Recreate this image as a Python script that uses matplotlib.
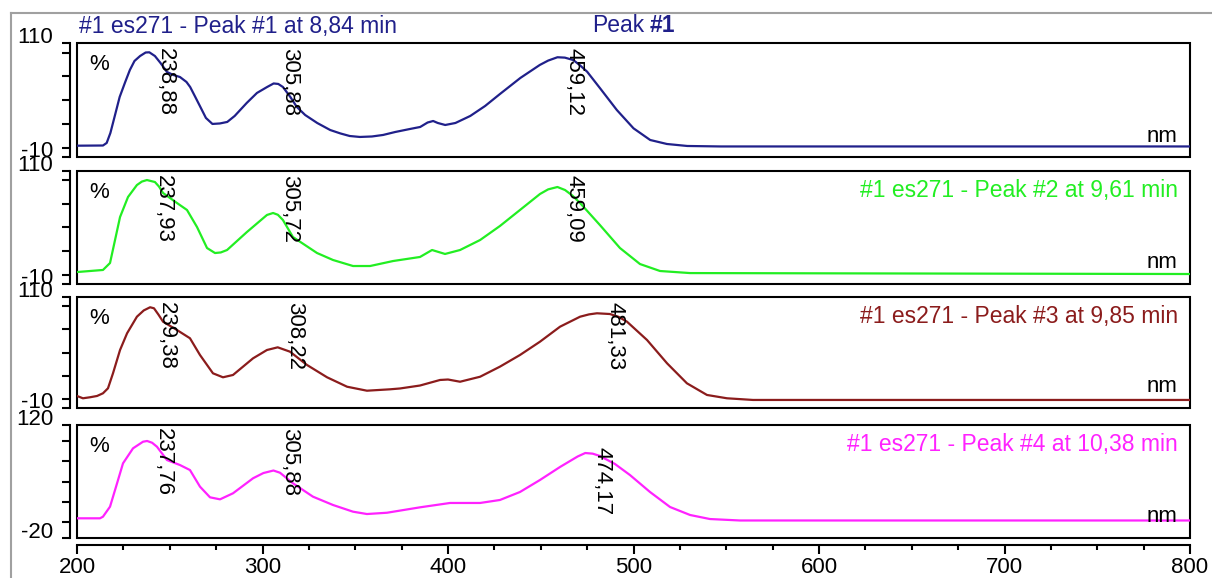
# DAD spectra of four peaks, es271 run

import matplotlib.pyplot as plt
from matplotlib.patches import Rectangle
from matplotlib.lines import Line2D
from matplotlib.ticker import FixedLocator, MultipleLocator

plt.rcParams['font.family'] = ['Liberation Sans', 'DejaVu Sans']

# spectrum data: wavelength (nm) / relative absorbance (%)
wl_1 = [200, 214, 216, 218, 220.5, 223, 226, 228.5, 231, 234, 237, 239, 242, 245, 248.5,
        252, 255.5, 259, 261, 263.5, 266.5, 269.5, 273, 277, 281, 285, 291.5, 297, 302.5,
        306, 308.5, 311, 315, 318.5, 323, 329.5, 336.5, 342, 347, 352.5, 359, 365, 371.5,
        379.5, 385, 389, 392, 394.5, 398.5, 404, 412, 420, 428, 439, 449.5, 454, 459, 463,
        467.5, 471, 475, 482, 491, 500, 509, 518, 529, 547, 800]
pct_1 = [1.9, 2.1, 4.8, 15.3, 34.2, 53.2, 69.0, 81.6, 91.1, 96.3, 100.0, 100.2, 96.3, 89.0, 79.5,
         76.3, 74.2, 69.0, 63.7, 54.2, 42.7, 31.1, 24.8, 25.3, 26.9, 33.2, 46.9, 57.4, 63.7,
         67.4, 66.9, 63.7, 53.2, 42.7, 34.2, 25.8, 18.4, 14.8, 12.1, 11.1, 11.6, 13.2, 16.3,
         19.5, 21.6, 26.3, 27.9, 25.8, 23.7, 25.8, 33.2, 43.7, 56.3, 73.2, 86.9, 91.5, 95.0, 94.6,
         92.1, 86.8, 79.8, 62.3, 39.5, 20.2, 7.9, 3.7, 1.6, 1.1, 1.1]

wl_2 = [200, 214, 217.8, 220.5, 223.2, 227.5, 232.3, 235, 237.7, 242, 244.2, 246.4, 253.9,
        259.3, 264.7, 270.1, 274.4, 277.5, 280.9, 291.6, 302.4, 305.7, 308.3, 311, 316.4,
        329.4, 338, 348.8, 358, 370.4, 384.9, 391.4, 398.4, 406.5, 417.3, 428, 438.8, 449.6,
        454, 459, 463.1, 467, 471.2, 481.9, 492.7, 503.5, 514.3, 530.5, 800]
pct_2 = [2.7, 4.9, 12.3, 36.7, 61.1, 82.4, 95.1, 98.8, 100.4, 98.3, 93.5, 86.6, 76.0,
         68.6, 50.5, 28.2, 22.9, 23.5, 26.1, 45.2, 63.3, 65.4, 63.5, 58.0, 39.9,
         22.9, 15.5, 9.1, 9.1, 14.4, 18.7, 26.1, 21.9, 26.1, 36.7, 51.6, 68.6, 85.6,
         90.5, 93.0, 89.8, 84.0, 76.0, 52.6, 28.2, 11.2, 3.8, 1.6, 0.6]

wl_3 = [200, 203.2, 207, 210.8, 214, 216.7, 219.4, 223.2, 227, 232.3, 236, 239.4, 241.5,
        243.9, 246.4, 253.9, 260.9, 266.3, 273.3, 278.7, 284.1, 294.9, 302.4, 308.2, 314.8,
        324, 334.8, 345.6, 356.3, 368.7, 374.1, 384.9, 395.7, 400, 406.5, 417.3, 428, 438.8,
        449.6, 460.4, 471.2, 476, 480.3, 487.3, 492, 496.5, 507.3, 518.1, 528.8, 539.6,
        550.4, 564.4, 800]
pct_3 = [3.0, 0.5, 1.6, 3.0, 5.9, 11.3, 27.5, 52.7, 70.8, 88.7, 95.5, 98.9, 97.8,
         91.0, 83.3, 74.3, 65.4, 47.3, 27.5, 23.2, 25.7, 43.7, 52.7, 55.6, 50.9,
         36.5, 23.2, 13.0, 8.7, 10.2, 11.1, 14.3, 20.3, 20.8, 18.4, 23.8, 34.7, 47.3,
         61.7, 77.9, 88.7, 91.2, 92.4, 91.6, 88.5, 83.3, 63.5, 38.3, 16.7, 4.1,
         0.5, -1.3, -1.3]

wl_4 = [200, 212.4, 214, 217.8, 221.6, 224.8, 230.2, 235.6, 237.8, 240.5, 243.1, 248.5,
        255.5, 260.9, 266.3, 271.7, 277.1, 284.1, 294.9, 300.5, 305.9, 309.4, 316.4, 327.2,
        338, 348.8, 356.3, 367.1, 384.9, 401.1, 417.3, 428, 438.8, 449.6, 460.4, 465.8,
        469.9, 474, 478, 481.9, 490, 498.1, 508.9, 519.7, 530.5, 541.2, 557.4, 800]
pct_4 = [4.4, 4.4, 6.4, 18.8, 47.8, 72.5, 91.1, 99.3, 100.2, 98.0, 93.1, 76.6,
         70.4, 64.2, 43.6, 30.4, 27.9, 35.4, 54.0, 60.5, 63.6, 60.9, 47.8, 31.2,
         20.9, 12.6, 9.7, 11.3, 18.0, 23.4, 23.4, 27.1, 37.0, 51.9, 68.0, 75.4,
         81.0, 85.3, 84.5, 81.6, 71.7, 58.0, 37.0, 18.4, 8.5, 3.5, 1.7, 1.7]

peaks = [[238.88, 305.88, 459.12],
         [237.93, 305.72, 459.09],
         [239.38, 308.22, 481.33],
         [237.76, 305.88, 474.17]]
titles = ['#1 es271 - Peak #1 at 8,84 min',
          '#1 es271 - Peak #2 at 9,61 min',
          '#1 es271 - Peak #3 at 9,85 min',
          '#1 es271 - Peak #4 at 10,38 min']
y_ranges = [(-10, 110), (-10, 110), (-10, 110), (-20, 120)]

wls = [wl_1, wl_2, wl_3, wl_4]
pcts = [pct_1, pct_2, pct_3, pct_4]
colors = ['#20208a', '#22ee22', '#8b1c1c', '#ff22ff']

W, H = 1212, 578
PT = 0.72          # points per pixel at dpi 100
FS = 16
FS_T = 16.5        # titles
frames = [(43, 157), (171, 284), (297, 408), (425, 538)]   # top/bottom of each box, px
label_drop = [[5, 5, 5], [4, 4, 4], [5, 5, 5], [3, 3, 22]]

fig = plt.figure(figsize=(W / 100, H / 100), dpi=100, facecolor='w')

for i in range(4):
    top, bot = frames[i]
    ax = fig.add_axes([77 / W, 1 - bot / H, (1190 - 77) / W, (bot - top) / H])
    ax.set_facecolor('none')
    ax.plot(wls[i], pcts[i], color=colors[i], lw=1.6, solid_joinstyle='round')
    lo, hi = y_ranges[i]
    ax.set_xlim(200, 800)
    ax.set_ylim(lo, hi)

    for s in ['top', 'right', 'bottom']:
        ax.spines[s].set_visible(False)
    ax.spines['left'].set_position(('outward', 5))
    ax.spines['left'].set_linewidth(1.5)
    ax.add_patch(Rectangle((0, 0), 1, 1, transform=ax.transAxes, fill=False,
                           lw=1.5, ec='black', clip_on=False))

    ax.yaxis.set_major_locator(FixedLocator([lo, hi]))
    ax.yaxis.set_minor_locator(FixedLocator([0, 25, 50, 75, 100]))
    ax.tick_params(axis='y', which='both', direction='out', length=6, width=1.5,
                   labelleft=False)
    for v in (lo, hi):
        ax.annotate(str(v), xy=(0, v), xycoords=('axes fraction', 'data'),
                    xytext=(-17, 4), textcoords='offset points',
                    ha='right', va='center', fontsize=FS)

    if i < 3:
        ax.tick_params(axis='x', which='both', bottom=False, labelbottom=False)
    else:
        ax.spines['bottom'].set_visible(True)
        ax.spines['bottom'].set_position(('outward', 5))
        ax.spines['bottom'].set_linewidth(1.5)
        ax.xaxis.set_major_locator(MultipleLocator(100))
        ax.xaxis.set_minor_locator(MultipleLocator(25))
        ax.tick_params(axis='x', which='major', direction='out', length=6.5, width=1.5,
                       labelsize=FS, pad=2)
        ax.tick_params(axis='x', which='minor', direction='out', length=3.6, width=1.5)

    # peak wavelengths, printed vertically
    for p, drop in zip(peaks[i], label_drop[i]):
        ax.annotate(f'{p:.2f}'.replace('.', ','), xy=(p, 1),
                    xycoords=('data', 'axes fraction'),
                    xytext=(4.3, -drop * PT), textcoords='offset points',
                    rotation=270, ha='left', va='top', fontsize=FS)

    ax.annotate('%', xy=(0, 1), xycoords='axes fraction', xytext=(12 * PT, -21 * PT),
                textcoords='offset points', ha='left', va='center', fontsize=FS)
    ax.annotate('nm', xy=(1, 0), xycoords='axes fraction', xytext=(-13 * PT, 21 * PT),
                textcoords='offset points', ha='right', va='center', fontsize=FS)

    if i > 0:
        ax.annotate(titles[i], xy=(1, 1), xycoords='axes fraction',
                    xytext=(-12 * PT, -19 * PT), textcoords='offset points',
                    ha='right', va='center', fontsize=FS_T, color=colors[i])

# header of the top panel
fig.text(79 / W, 1 - 26 / H, titles[0], ha='left', va='center', fontsize=FS_T,
         color=colors[0])
pk = fig.text(592 / W, 1 - 26 / H, 'Peak', ha='left', va='center', fontsize=FS_T,
              color=colors[0])
plt.annotate('#1', xy=(1, 0.5), xycoords=pk, xytext=(4, 0), textcoords='offset points',
             ha='left', va='center', fontsize=FS_T, color=colors[0], fontweight='bold',
             annotation_clip=False)

# grey window border
fig.add_artist(Line2D([11 / W, 11 / W], [0, 1 - 13 / H], color='#a0a0a0', lw=1.5,
                      transform=fig.transFigure))
fig.add_artist(Line2D([11 / W, 1], [1 - 13 / H, 1 - 13 / H], color='#a0a0a0', lw=1.5,
                      transform=fig.transFigure))

plt.savefig('out.png', dpi=100, facecolor='w')
